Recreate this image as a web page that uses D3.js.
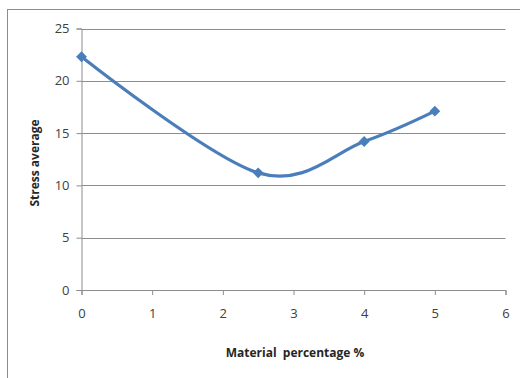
<!DOCTYPE html>
<html>
<head>
<meta charset="UTF-8" />
<style>
  body { margin: 0; background: #fff; }
  text { font-family: "Open Sans", "Liberation Sans", sans-serif; }
</style>
<script src="https://d3js.org/d3.v7.min.js"></script>
</head>
<body>
<svg id="viz" width="520" height="378"></svg>
<script>
// data
var percent = [0, 2.5, 4, 5];
var stress = [22.3, 11.2, 14.2, 17.1];
var xTicks = [0, 1, 2, 3, 4, 5, 6];
var yTicks = [0, 5, 10, 15, 20, 25];

var svg = d3.select("#viz");

// outer chart border (right/bottom fall outside the picture)
svg.append("rect")
  .attr("x", 7.5).attr("y", 9.5)
  .attr("width", 530).attr("height", 400)
  .attr("fill", "none").attr("stroke", "#8c8c8c").attr("stroke-width", 1);

var x = d3.scaleLinear().domain([0, 6]).range([81.5, 505.5]);
var y = d3.scaleLinear().domain([0, 25]).range([290, 28.5]);

// horizontal grid
svg.append("g").selectAll("line")
  .data(yTicks.filter(d => d > 0))
  .join("line")
  .attr("x1", x(0)).attr("x2", x(6))
  .attr("y1", d => Math.round(y(d)) + 0.5).attr("y2", d => Math.round(y(d)) + 0.5)
  .attr("stroke", "#8c8c8c");

// y axis
var yAxis = svg.append("g")
  .attr("transform", "translate(" + x(0) + ",0)")
  .call(d3.axisLeft(y).tickValues(yTicks).tickFormat(d3.format("d")).tickSize(5).tickPadding(7));
// x axis
var xAxis = svg.append("g")
  .attr("transform", "translate(0," + y(0) + ")")
  .call(d3.axisBottom(x).tickValues(xTicks).tickFormat(d3.format("d")).tickSize(5).tickPadding(14));

[yAxis, xAxis].forEach(function (g) {
  g.select(".domain").attr("stroke", "#8c8c8c");
  g.selectAll(".tick line").attr("stroke", "#8c8c8c");
  g.selectAll(".tick text").attr("fill", "#404040").style("font-size", "13px");
});

var pts = percent.map((p, i) => [p, stress[i]]);

svg.append("path")
  .datum(pts)
  .attr("fill", "none")
  .attr("stroke", "#4a7ebb")
  .attr("stroke-width", 3.2)
  .attr("d", d3.line().x(d => x(d[0])).y(d => y(d[1])).curve(d3.curveCatmullRom.alpha(0)));

svg.append("g").selectAll("path")
  .data(pts)
  .join("path")
  .attr("transform", d => "translate(" + x(d[0]) + "," + y(d[1]) + ")")
  .attr("d", d3.symbol().type(d3.symbolDiamond2).size(75))
  .attr("fill", "#4a7ebb");

svg.append("text")
  .attr("x", 295).attr("y", 357)
  .attr("text-anchor", "middle")
  .style("font-size", "12px").style("font-weight", "bold")
  .attr("fill", "#262626")
  .attr("xml:space", "preserve")
  .text("Material  percentage %");

svg.append("text")
  .attr("transform", "translate(39,163) rotate(-90)")
  .attr("text-anchor", "middle")
  .style("font-size", "12px").style("font-weight", "bold")
  .attr("fill", "#262626")
  .text("Stress average");
</script>
</body>
</html>
